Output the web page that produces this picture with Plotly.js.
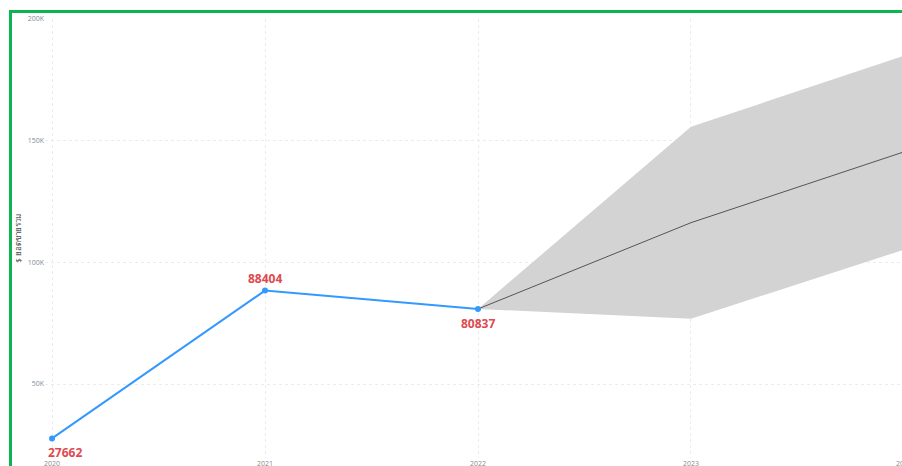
<!DOCTYPE html>
<html>
<head>
<meta charset="utf-8">
<script src="https://cdn.plot.ly/plotly-3.0.1.min.js"></script>
<style>
  html, body { margin: 0; padding: 0; overflow: hidden; background: #fff; }
  #frame { position: absolute; left: 9px; top: 10px; border: 3px solid #0cb552; }
  #chart { width: 919px; height: 470px; }
</style>
</head>
<body>
<div id="frame"><div id="chart"></div></div>
<script>
// Actual values
const actualYears = [2020, 2021, 2022];
const actualValues = [27662, 88404, 80837];
const actualLabelShift = [-14, 12, -15];
const actualLabelXShift = [13, 0, 0];

// Forecast with confidence band
const forecastYears = [2022, 2023, 2024];
const forecastValues = [80837, 116300, 145400];
const upperValues = [80837, 155700, 184900];
const lowerValues = [80837, 76800, 105200];

// Axis ticks
const xTicks = [2020, 2021, 2022, 2023, 2024];
const xTickLabels = ["2020", "2021", "2022", "2023", "2024"];
const yTicks = [50000, 100000, 150000, 200000];
const yTickLabels = ["50K", "100K", "150K", "200K"];

const yTitle = "$ ยอดขายรวม";

const traces = [
  {
    x: forecastYears, y: upperValues, type: "scatter", mode: "lines",
    line: { width: 0, color: "rgba(0,0,0,0)" }, hoverinfo: "skip", showlegend: false
  },
  {
    x: forecastYears, y: lowerValues, type: "scatter", mode: "lines",
    fill: "tonexty", fillcolor: "#d3d3d3",
    line: { width: 0, color: "rgba(0,0,0,0)" }, hoverinfo: "skip", showlegend: false
  },
  {
    x: forecastYears, y: forecastValues, type: "scatter", mode: "lines",
    line: { width: 1, color: "#555555" }, showlegend: false
  },
  {
    x: actualYears, y: actualValues, type: "scatter", mode: "lines+markers",
    line: { width: 2, color: "#3399ff" },
    marker: { size: 6, color: "#3399ff" },
    showlegend: false
  }
];

const annotations = actualYears.map((yr, i) => ({
  x: yr, y: actualValues[i], xref: "x", yref: "y",
  text: String(actualValues[i]), showarrow: false,
  yshift: actualLabelShift[i], xshift: actualLabelXShift[i],
  font: { family: "Open Sans, sans-serif", size: 12, color: "#de4a4f", weight: "bold" }
}));

const layout = {
  width: 919, height: 470,
  margin: { l: 33, r: 20, t: 6, b: 25 },
  paper_bgcolor: "#ffffff",
  plot_bgcolor: "#ffffff",
  showlegend: false,
  annotations: annotations,
  font: { family: "Open Sans, sans-serif", size: 7, color: "#7f8a99" },
  xaxis: {
    range: [2019.967, 2024.033],
    tickvals: xTicks, ticktext: xTickLabels,
    showgrid: true, gridcolor: "#ececec", griddash: "dot", gridwidth: 1,
    zeroline: false, showline: false, ticks: "",
    tickfont: { size: 7, color: "#8a8a8a" }
  },
  yaxis: {
    range: [19600, 200000],
    tickvals: yTicks, ticktext: yTickLabels,
    showgrid: true, gridcolor: "#ececec", griddash: "dot", gridwidth: 1,
    zeroline: false, showline: false, ticks: "",
    tickfont: { size: 7, color: "#7f8a99" },
    title: { text: yTitle, font: { size: 8, color: "#444444" }, standoff: 6 }
  }
};

Plotly.newPlot("chart", traces, layout, { displayModeBar: false, staticPlot: true });
</script>
</body>
</html>
